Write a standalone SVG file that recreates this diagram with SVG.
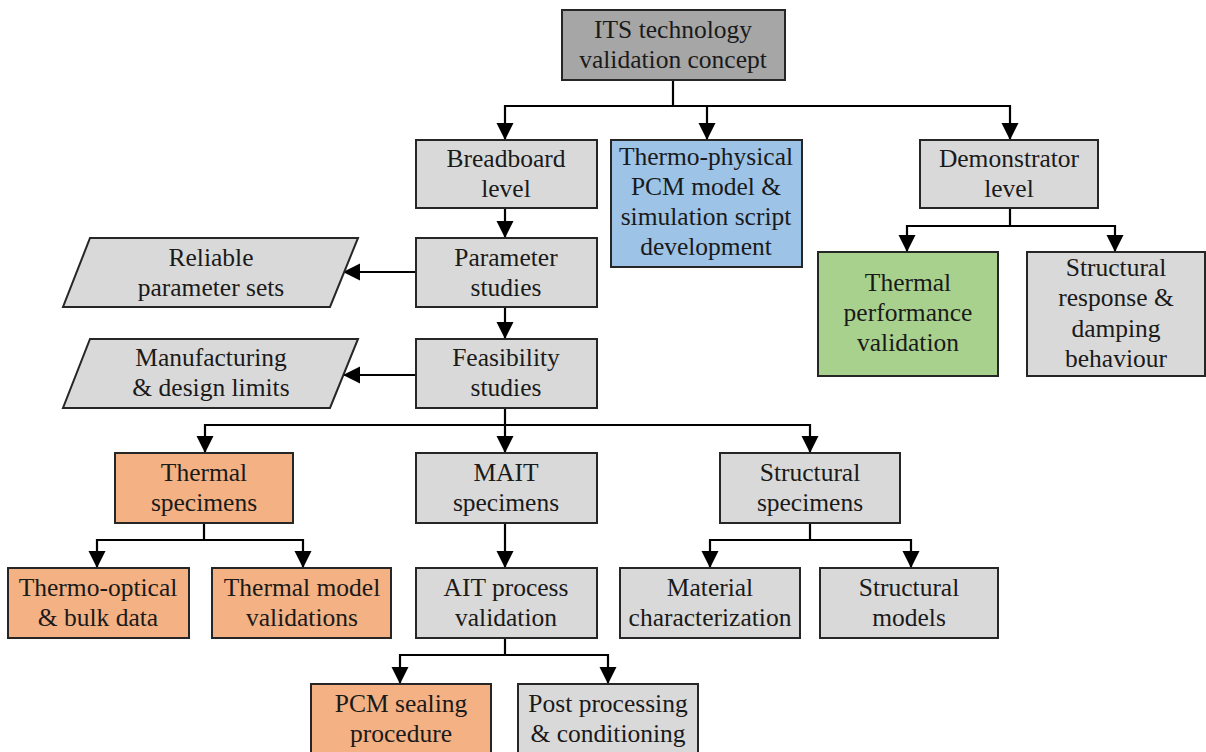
<svg xmlns="http://www.w3.org/2000/svg" width="1206" height="752" viewBox="0 0 1206 752">
<style>
.b{stroke:#262626;stroke-width:2}
.g{fill:#d9d9d9}.d{fill:#a6a6a6}.o{fill:#f4b183}.bl{fill:#9dc3e6}.gr{fill:#a9d18e}
.t text{font-size:25.5px;fill:#1a1a1a;text-anchor:middle}
.c{fill:none;stroke:#000;stroke-width:2.2}
</style>
<defs>
<marker id="a" markerUnits="userSpaceOnUse" markerWidth="17" markerHeight="18" refX="16" refY="8.5" orient="auto" viewBox="0 0 17 17">
<path d="M0,0 L17,8.5 L0,17 Z" fill="#000"/>
</marker>
</defs>
<rect width="1206" height="752" fill="#fff"/>
<g id="connectors">
<path class="c" d="M673,80 V106 H505 V139" marker-end="url(#a)"/>
<path class="c" d="M673,106 H707 V139" marker-end="url(#a)"/>
<path class="c" d="M673,106 H1010 V139" marker-end="url(#a)"/>
<path class="c" d="M505,208 V237" marker-end="url(#a)"/>
<path class="c" d="M416,272 H344" marker-end="url(#a)"/>
<path class="c" d="M505,307 V338" marker-end="url(#a)"/>
<path class="c" d="M416,375 H344" marker-end="url(#a)"/>
<path class="c" d="M505,408 V425 H205 V452" marker-end="url(#a)"/>
<path class="c" d="M505,425 V452" marker-end="url(#a)"/>
<path class="c" d="M505,425 H810 V452" marker-end="url(#a)"/>
<path class="c" d="M204,523 V540 H97 V567" marker-end="url(#a)"/>
<path class="c" d="M204,540 H303 V567" marker-end="url(#a)"/>
<path class="c" d="M505,523 V567" marker-end="url(#a)"/>
<path class="c" d="M810,523 V540 H710 V567" marker-end="url(#a)"/>
<path class="c" d="M810,540 H911 V567" marker-end="url(#a)"/>
<path class="c" d="M505,638 V655 H400 V683" marker-end="url(#a)"/>
<path class="c" d="M505,655 H608 V683" marker-end="url(#a)"/>
<path class="c" d="M1010,208 V226 H907 V251" marker-end="url(#a)"/>
<path class="c" d="M1010,226 H1115 V251" marker-end="url(#a)"/>
</g>
<g class="t" font-family="Liberation Serif, Times New Roman, serif">
<g id="n-root"><rect class="b d" x="562" y="10" width="223" height="70"/><text x="673" y="38">ITS technology</text><text x="673" y="68">validation concept</text></g>
<g id="n-breadboard"><rect class="b g" x="416" y="140" width="181" height="68"/><text x="506" y="167">Breadboard</text><text x="506" y="197">level</text></g>
<g id="n-thermophysical"><rect class="b bl" x="611" y="140" width="191" height="127"/><text x="706" y="165">Thermo-physical</text><text x="706" y="195">PCM model &amp;</text><text x="706" y="225">simulation script</text><text x="706" y="255">development</text></g>
<g id="n-demonstrator"><rect class="b g" x="920" y="140" width="178" height="68"/><text x="1009" y="167">Demonstrator</text><text x="1009" y="197">level</text></g>
<g id="n-parameter"><rect class="b g" x="416" y="238" width="181" height="69"/><text x="506" y="266">Parameter</text><text x="506" y="296">studies</text></g>
<g id="n-reliable"><path class="b g" d="M90,238 H358 L330,307 H63 Z"/><text x="211" y="266">Reliable</text><text x="211" y="296">parameter sets</text></g>
<g id="n-feasibility"><rect class="b g" x="416" y="339" width="181" height="69"/><text x="506" y="366">Feasibility</text><text x="506" y="396">studies</text></g>
<g id="n-manufacturing"><path class="b g" d="M90,339 H358 L330,408 H63 Z"/><text x="211" y="366">Manufacturing</text><text x="211" y="396">&amp; design limits</text></g>
<g id="n-thermalperf"><rect class="b gr" x="818" y="252" width="180" height="124"/><text x="908" y="291">Thermal</text><text x="908" y="321">performance</text><text x="908" y="351">validation</text></g>
<g id="n-structresp"><rect class="b g" x="1027" y="252" width="178" height="124"/><text x="1116" y="276">Structural</text><text x="1116" y="306">response &amp;</text><text x="1116" y="337">damping</text><text x="1116" y="367">behaviour</text></g>
<g id="n-thermalspec"><rect class="b o" x="115" y="453" width="178" height="70"/><text x="204" y="481">Thermal</text><text x="204" y="511">specimens</text></g>
<g id="n-mait"><rect class="b g" x="416" y="453" width="181" height="70"/><text x="506" y="481">MAIT</text><text x="506" y="511">specimens</text></g>
<g id="n-structspec"><rect class="b g" x="720" y="453" width="180" height="70"/><text x="810" y="481">Structural</text><text x="810" y="511">specimens</text></g>
<g id="n-thermooptical"><rect class="b o" x="8" y="568" width="181" height="70"/><text x="98" y="596">Thermo-optical</text><text x="98" y="626">&amp; bulk data</text></g>
<g id="n-thermalmodel"><rect class="b o" x="212" y="568" width="179" height="70"/><text x="302" y="596">Thermal model</text><text x="302" y="626">validations</text></g>
<g id="n-ait"><rect class="b g" x="416" y="568" width="181" height="70"/><text x="506" y="596">AIT process</text><text x="506" y="626">validation</text></g>
<g id="n-material"><rect class="b g" x="620" y="568" width="180" height="70"/><text x="710" y="596">Material</text><text x="710" y="626">characterization</text></g>
<g id="n-structmodels"><rect class="b g" x="820" y="568" width="178" height="70"/><text x="909" y="596">Structural</text><text x="909" y="626">models</text></g>
<g id="n-pcm"><rect class="b o" x="311" y="684" width="180" height="72"/><text x="401" y="712">PCM sealing</text><text x="401" y="742">procedure</text></g>
<g id="n-post"><rect class="b g" x="518" y="684" width="180" height="72"/><text x="608" y="712">Post processing</text><text x="608" y="742">&amp; conditioning</text></g>
</g>
</svg>
